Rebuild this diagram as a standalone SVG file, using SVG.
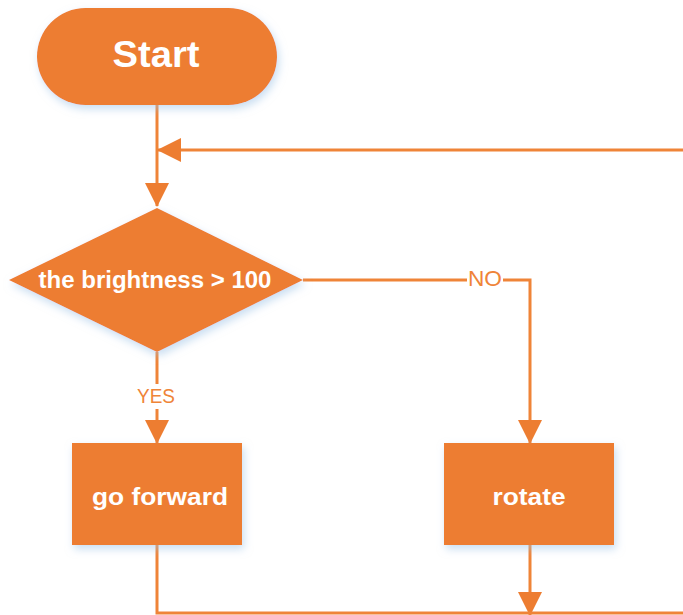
<svg xmlns="http://www.w3.org/2000/svg" width="683" height="615" viewBox="0 0 683 615">
<defs>
<filter id="sh" x="-20%" y="-20%" width="140%" height="150%">
<feDropShadow dx="2" dy="4" stdDeviation="4" flood-color="#9dc3e6" flood-opacity="0.55"/>
</filter>
<marker id="ah" markerUnits="userSpaceOnUse" markerWidth="24" markerHeight="24" viewBox="0 0 24 24" refX="23" refY="12" orient="auto">
<path d="M0,0 L24,12 L0,24 Z" fill="#ED7D31"/>
</marker>
</defs>
<style>
.node{fill:#ED7D31;filter:url(#sh)}
.t{fill:#fff;font-family:"Liberation Sans",Arial,sans-serif;font-weight:bold;text-anchor:middle}
.c{fill:none;stroke:#EF8438;stroke-width:3}
.lbl{fill:#EF8438;font-family:"Liberation Sans",Arial,sans-serif;text-anchor:middle}
</style>
<rect width="683" height="615" fill="#fff"/>
<g id="connectors">
<path class="c" d="M157,105 V206" marker-end="url(#ah)"/>
<path class="c" d="M683,150 H158" marker-end="url(#ah)"/>
<path class="c" d="M157,352 V384"/>
<path class="c" d="M157,409 V443" marker-end="url(#ah)"/>
<path class="c" d="M303,280 H467"/>
<path class="c" d="M503,280 H530 V443" marker-end="url(#ah)"/>
<path class="c" d="M530,545 V615" marker-end="url(#ah)"/>
<path class="c" d="M157,545 V613 H683"/>
<text class="lbl" x="485" y="286" font-size="22" textLength="34" lengthAdjust="spacingAndGlyphs">NO</text>
<text class="lbl" x="156" y="403" font-size="20" textLength="38" lengthAdjust="spacingAndGlyphs">YES</text>
</g>
<g id="start">
<rect class="node" x="37" y="8" width="240" height="97" rx="48.5"/>
<text class="t" x="156" y="67" font-size="37" textLength="87" lengthAdjust="spacingAndGlyphs">Start</text>
</g>
<g id="decision">
<polygon class="node" points="157,208 303,280 157,352 9,280"/>
<text class="t" x="155" y="288" font-size="23" textLength="233" lengthAdjust="spacingAndGlyphs">the brightness &gt; 100</text>
</g>
<g id="forward">
<rect class="node" x="72" y="443" width="170" height="102"/>
<text class="t" x="160" y="505" font-size="23" textLength="136" lengthAdjust="spacingAndGlyphs">go forward</text>
</g>
<g id="rotate">
<rect class="node" x="444" y="443" width="170" height="102"/>
<text class="t" x="529" y="505" font-size="23" textLength="73" lengthAdjust="spacingAndGlyphs">rotate</text>
</g>
</svg>
